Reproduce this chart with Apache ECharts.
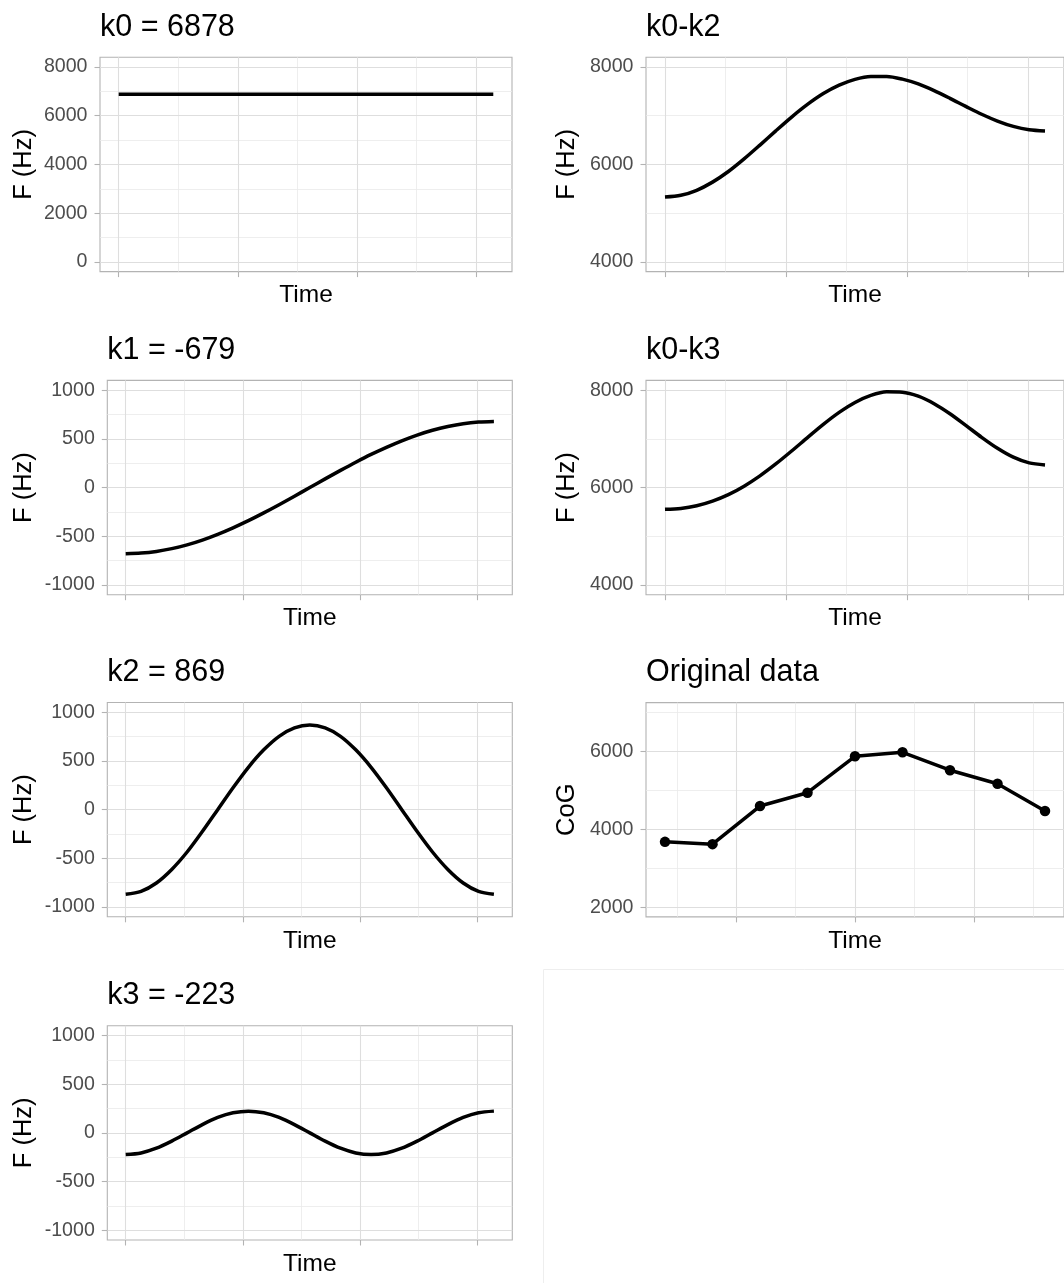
<!DOCTYPE html>
<html>
<head>
<meta charset="utf-8">
<script src="https://cdn.jsdelivr.net/npm/echarts@6/dist/echarts.min.js"></script>
<style>
html,body{margin:0;padding:0;background:#fff;}
#chart{width:1064px;height:1283px;}
</style>
</head>
<body>
<div id="chart"></div>
<script>
// ---- data ----
const titles = ['k0 = 6878', 'k1 = -679', 'k2 = 869', 'k3 = -223', 'k0-k2', 'k0-k3', 'Original data'];

const tCurve = [0, 0.131, 0.262, 0.393, 0.524, 0.654, 0.785, 0.916, 1.047, 1.178, 1.309, 1.440, 1.571,
                1.702, 1.833, 1.963, 2.094, 2.225, 2.356, 2.487, 2.618, 2.749, 2.880, 3.011, 3.142];

const k0Curve = [6878, 6878, 6878, 6878, 6878, 6878, 6878, 6878, 6878, 6878, 6878, 6878, 6878,
                 6878, 6878, 6878, 6878, 6878, 6878, 6878, 6878, 6878, 6878, 6878, 6878];
const k1Curve = [-679, -673, -656, -627, -588, -539, -480, -413, -340, -260, -176, -89, 0,
                 89, 176, 260, 340, 413, 480, 539, 588, 627, 656, 673, 679];
const k2Curve = [-869, -839, -753, -614, -435, -225, 0, 225, 435, 614, 753, 839, 869,
                 839, 753, 614, 435, 225, 0, -225, -435, -614, -753, -839, -869];
const k3Curve = [-223, -206, -158, -85, 0, 85, 158, 206, 223, 206, 158, 85, 0,
                 -85, -158, -206, -223, -206, -158, -85, 0, 85, 158, 206, 223];
const k0k2Curve = [5330, 5366, 5469, 5637, 5855, 6114, 6398, 6690, 6973, 7232, 7455, 7628, 7747,
                   7806, 7807, 7752, 7653, 7516, 7358, 7192, 7031, 6891, 6781, 6712, 6688];
const k0k3Curve = [5553, 5572, 5627, 5722, 5855, 6029, 6240, 6484, 6750, 7026, 7297, 7543, 7747,
                   7891, 7965, 7958, 7876, 7722, 7516, 7277, 7031, 6806, 6623, 6506, 6465];

const tOrig = [1, 2, 3, 4, 5, 6, 7, 8, 9];
const cogOrig = [3676, 3617, 4595, 4937, 5872, 5974, 5515, 5167, 4467];

// tick values
const xMajorCurve = [0, 1, 2, 3];
const xMinorCurve = [0.5, 1.5, 2.5];
const xMajorOrig = [2.5, 5, 7.5];
const xMinorOrig = [1.25, 3.75, 6.25, 8.75];

const yMajorK0 = [0, 2000, 4000, 6000, 8000];
const yMinorK0 = [1000, 3000, 5000, 7000];
const yMajorK = [-1000, -500, 0, 500, 1000];
const yMinorK = [-750, -250, 250, 750];
const yMajorRec = [4000, 6000, 8000];
const yMinorRec = [5000, 7000];
const yMajorOrig = [2000, 4000, 6000];
const yMinorOrig = [3000, 5000, 7000];

// ---- layout / styling ----
const FONT = 'Liberation Sans, Arial, Helvetica, sans-serif';
const YNAME_SIZE = 25.5;
const panels = [
  {title: titles[0], left: 100,   top: 57.3,  width: 412,   x: tCurve, y: k0Curve,   xr: [-0.157, 3.299], xM: xMajorCurve, xm: xMinorCurve, yr: [-400, 8400],  yM: yMajorK0,   ym: yMinorK0,   yName: 'F (Hz)'},
  {title: titles[1], left: 107.3, top: 380.4, width: 405,   x: tCurve, y: k1Curve,   xr: [-0.157, 3.299], xM: xMajorCurve, xm: xMinorCurve, yr: [-1100, 1100], yM: yMajorK,    ym: yMinorK,    yName: 'F (Hz)'},
  {title: titles[2], left: 107.3, top: 702.5, width: 405,   x: tCurve, y: k2Curve,   xr: [-0.157, 3.299], xM: xMajorCurve, xm: xMinorCurve, yr: [-1100, 1100], yM: yMajorK,    ym: yMinorK,    yName: 'F (Hz)'},
  {title: titles[3], left: 107.3, top: 1025.7,width: 405,   x: tCurve, y: k3Curve,   xr: [-0.157, 3.299], xM: xMajorCurve, xm: xMinorCurve, yr: [-1100, 1100], yM: yMajorK,    ym: yMinorK,    yName: 'F (Hz)'},
  {title: titles[4], left: 646,   top: 57.3,  width: 424.3, x: tCurve, y: k0k2Curve, xr: [-0.157, 3.299], xM: xMajorCurve, xm: xMinorCurve, yr: [3800, 8200],  yM: yMajorRec,  ym: yMinorRec,  yName: 'F (Hz)'},
  {title: titles[5], left: 646,   top: 380.4, width: 424.3, x: tCurve, y: k0k3Curve, xr: [-0.157, 3.299], xM: xMajorCurve, xm: xMinorCurve, yr: [3800, 8200],  yM: yMajorRec,  ym: yMinorRec,  yName: 'F (Hz)'},
  {title: titles[6], left: 646,   top: 702.6, width: 424.3, x: tOrig,  y: cogOrig,   xr: [0.6, 9.4],      xM: xMajorOrig,  xm: xMinorOrig,  yr: [1750, 7250],  yM: yMajorOrig, ym: yMinorOrig, yName: 'CoG', points: true}
];
const PH = 214.3;
// centre x of the rotated y-axis titles
const yNameCentre = [24.1, 24.1, 24.1, 24.1, 567.6, 567.6, 567.6];

const option = {
  animation: false,
  backgroundColor: '#ffffff',
  title: [], grid: [], xAxis: [], yAxis: [], series: [],
  graphic: [{
    type: 'rect', silent: true, z: -1,
    shape: {x: 543.5, y: 969.5, width: 600, height: 400},
    style: {fill: 'none', stroke: '#EEEEEE', lineWidth: 1}
  }]
};

panels.forEach((p, g) => {
  option.title.push({
    text: p.title, left: p.left, top: p.top - 45.3, padding: 0,
    textStyle: {fontFamily: FONT, fontSize: 30.5, fontWeight: 'normal', color: '#000'}
  });
  option.grid.push({
    left: p.left, top: p.top, width: p.width, height: PH,
    show: true, borderColor: '#B3B3B3', borderWidth: 1.1, backgroundColor: 'transparent', containLabel: false
  });
  option.xAxis.push({
    type: 'value', gridIndex: g, min: p.xr[0], max: p.xr[1],
    name: 'Time', nameLocation: 'middle', nameGap: 11.5,
    nameTextStyle: {fontFamily: FONT, fontSize: 24.5, color: '#000'},
    axisLine: {show: false, onZero: false},
    axisTick: {show: true, length: 5.5, customValues: p.xM, lineStyle: {color: '#B3B3B3', width: 1.1}},
    axisLabel: {show: false},
    splitLine: {show: true, lineStyle: {color: '#DEDEDE', width: 1.1}},
    z: 2
  });
  option.xAxis.push({
    type: 'value', gridIndex: g, min: p.xr[0], max: p.xr[1],
    axisLine: {show: false, onZero: false},
    axisTick: {show: false, customValues: p.xm},
    axisLabel: {show: false},
    splitLine: {show: true, lineStyle: {color: '#EAEAEA', width: 0.8}},
    z: 1
  });
  option.yAxis.push({
    type: 'value', gridIndex: g, min: p.yr[0], max: p.yr[1],
    name: p.yName, nameLocation: 'middle', nameGap: p.left - yNameCentre[g] - YNAME_SIZE / 2,
    nameTextStyle: {fontFamily: FONT, fontSize: YNAME_SIZE, color: '#000'},
    axisLine: {show: false, onZero: false},
    axisTick: {show: true, length: 5.5, customValues: p.yM, lineStyle: {color: '#B3B3B3', width: 1.1}},
    axisLabel: {show: true, customValues: p.yM, margin: 12.5, fontFamily: FONT, fontSize: 19.6, color: '#4D4D4D',
                formatter: v => String(v)},
    splitLine: {show: true, lineStyle: {color: '#DEDEDE', width: 1.1}},
    z: 2
  });
  option.yAxis.push({
    type: 'value', gridIndex: g, min: p.yr[0], max: p.yr[1],
    axisLine: {show: false, onZero: false},
    axisTick: {show: false, customValues: p.ym},
    axisLabel: {show: false},
    splitLine: {show: true, lineStyle: {color: '#EAEAEA', width: 0.8}},
    z: 1
  });
  option.series.push({
    type: 'line', xAxisIndex: 2 * g, yAxisIndex: 2 * g,
    data: p.x.map((v, i) => [v, p.y[i]]),
    smooth: p.points ? false : 0.3,
    showSymbol: !!p.points, symbol: 'circle', symbolSize: 10.5,
    itemStyle: {color: '#000'},
    lineStyle: {color: '#000', width: 3.5, cap: 'butt', join: 'round'},
    z: 5
  });
});

const chart = echarts.init(document.getElementById('chart'), null, {renderer: 'canvas'});
chart.setOption(option);
</script>
</body>
</html>
